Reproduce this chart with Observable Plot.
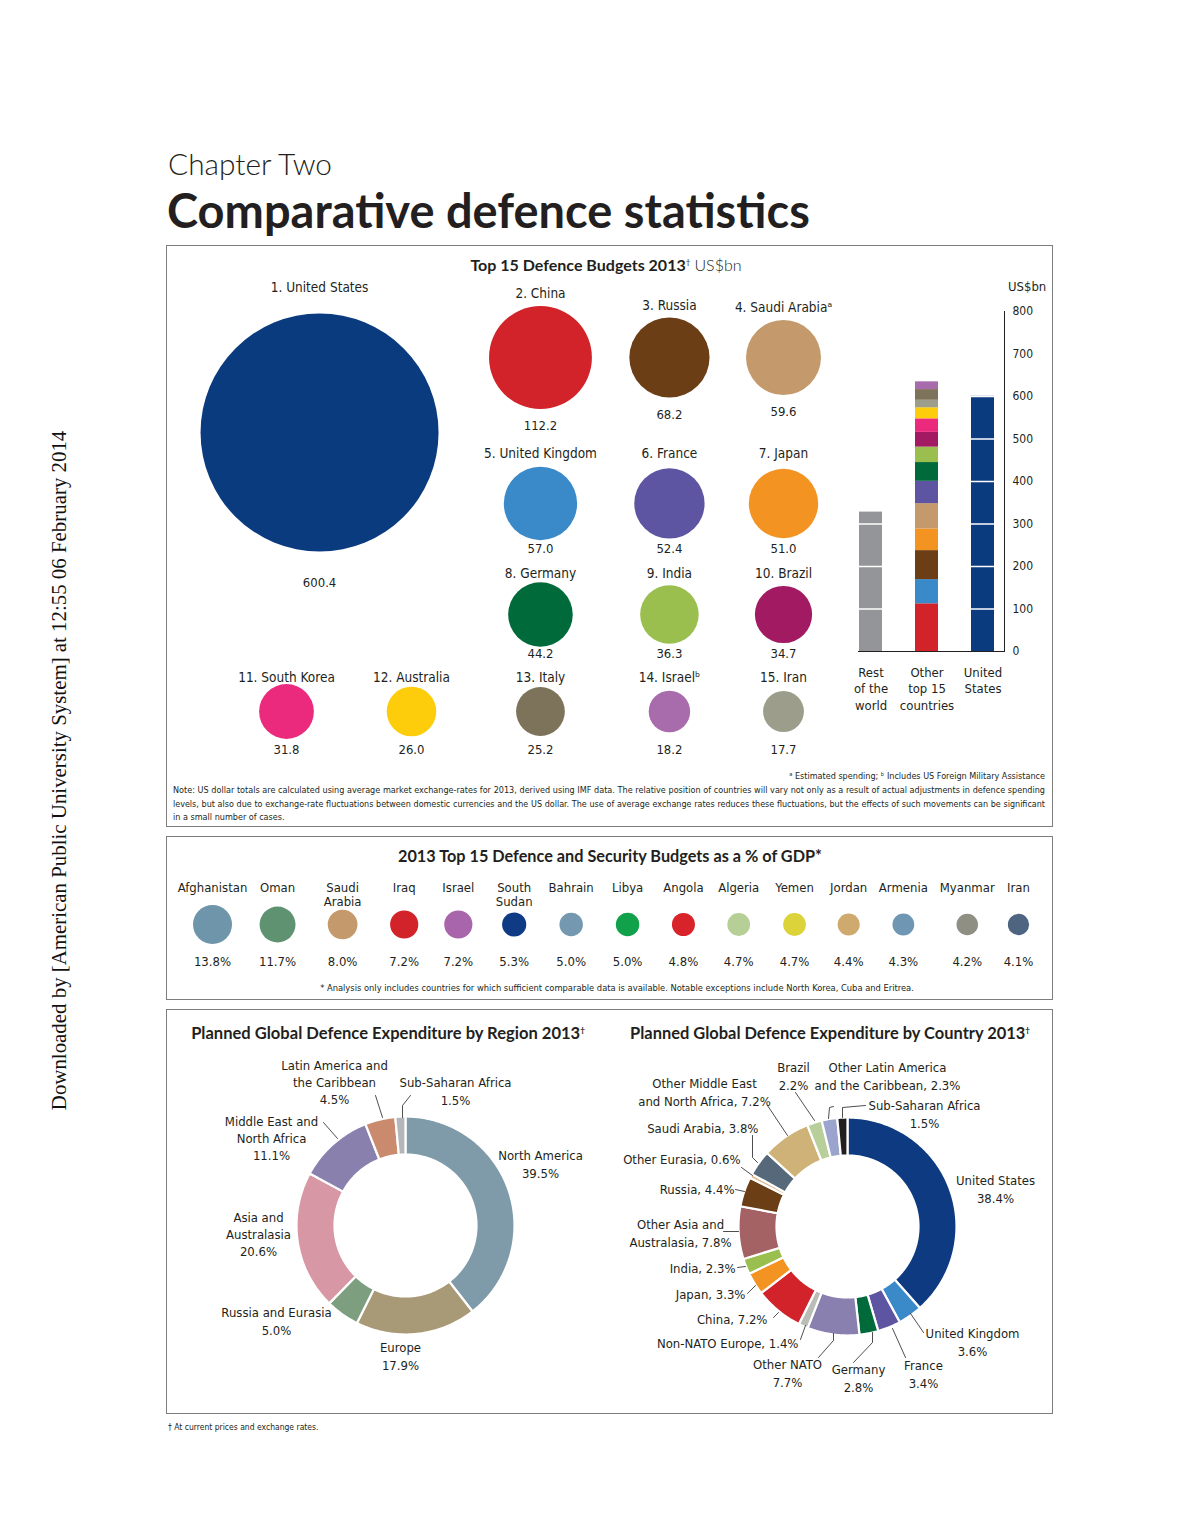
<!DOCTYPE html>
<html><head><meta charset="utf-8">
<script src="https://cdn.jsdelivr.net/npm/d3@7"></script>
<script src="https://cdn.jsdelivr.net/npm/@observablehq/plot@0.6"></script>
<style>
body{margin:0;background:#fff;}
#page{position:relative;width:1186px;height:1534px;overflow:hidden;background:#fff;color:#231f20;}
.box{position:absolute;border:1px solid #7d7d7d;box-sizing:border-box;}
.pl{position:absolute;}
</style></head><body><div id="page"></div>
<script>
// ---------------- DATA ----------------
const top15Names = ["United States","China","Russia","Saudi Arabia","United Kingdom","France","Japan","Germany","India","Brazil","South Korea","Australia","Italy","Israel","Iran"];
const top15Notes = ["","","","ᵃ","","","","","","","","","","ᵇ",""];
const top15Values = [600.4,112.2,68.2,59.6,57.0,52.4,51.0,44.2,36.3,34.7,31.8,26.0,25.2,18.2,17.7];

const barCategories = ["Rest of the world","Other top 15 countries","United States"];
const barTickLabels = ["Rest\nof the\nworld","Other\ntop 15\ncountries","United\nStates"];
const restOfWorld = 328;
const stackOrder = ["China","United Kingdom","Russia","Japan","Saudi Arabia","France","Germany","India","Brazil","South Korea","Australia","Iran","Italy","Israel"];
const barTicks = [0,100,200,300,400,500,600,700,800];

const gdpCountries = ["Afghanistan","Oman","Saudi\nArabia","Iraq","Israel","South\nSudan","Bahrain","Libya","Angola","Algeria","Yemen","Jordan","Armenia","Myanmar","Iran"];
const gdpShares = [13.8,11.7,8.0,7.2,7.2,5.3,5.0,5.0,4.8,4.7,4.7,4.4,4.3,4.2,4.1];

const regions = ["North America","Europe","Russia and Eurasia","Asia and Australasia","Middle East and North Africa","Latin America and the Caribbean","Sub-Saharan Africa"];
const regionShares = [39.5,17.9,5.0,20.6,11.1,4.5,1.5];
const regionLabelText = ["North America\n{v}","Europe\n{v}","Russia and Eurasia\n{v}","Asia and\nAustralasia\n{v}","Middle East and\nNorth Africa\n{v}","Latin America and\nthe Caribbean\n{v}","Sub-Saharan Africa\n{v}"];

const countries = ["United States","United Kingdom","France","Germany","Other NATO","Non-NATO Europe","China","Japan","India","Other Asia and Australasia","Russia","Other Eurasia","Saudi Arabia","Other Middle East and North Africa","Brazil","Other Latin America and the Caribbean","Sub-Saharan Africa"];
const countryShares = [38.4,3.6,3.4,2.8,7.7,1.4,7.2,3.3,2.3,7.8,4.4,0.6,3.8,7.2,2.2,2.3,1.5];
const countryLabelText = ["United States\n{v}","United Kingdom\n{v}","France\n{v}","Germany\n{v}","Other NATO\n{v}","Non-NATO Europe, {v}","China, {v}","Japan, {v}","India, {v}","Other Asia and\nAustralasia, {v}","Russia, {v}","Other Eurasia, {v}","Saudi Arabia, {v}","Other Middle East\nand North Africa, {v}","Brazil\n{v}","Other Latin America\nand the Caribbean, {v}","Sub-Saharan Africa\n{v}"];

// ---------------- STYLES / LAYOUT ----------------
const top15Palette = ["#0b3b7f","#d2232a","#6b3e16","#c49a6c","#3a89c9","#5e55a2","#f39322","#006a3a","#9bbf4f","#a21a61","#ec2a7d","#fdcc0a","#7d735a","#a86bac","#9d9d8c"];
const restColor = "#939598";
const gdpPalette = ["#6f95ab","#5f9270","#c49a6c","#d2232a","#a865ac","#0f3a84","#7398af","#12a14b","#d8232a","#b6cf97","#dcd23a","#cfaa6e","#6f97b4","#8f8f84","#4d6580"];
const regionPalette = ["#7f9aa8","#a99a77","#7d9f80","#d797a5","#8a80ad","#c98a6d","#b4b7b9"];
const countryPalette = ["#0d3a80","#3a89c9","#5e55a2","#006a3a","#8a80b0","#b9bcb7","#d2232a","#f39322","#9bbf4f","#a56264","#6b3e16","#e0b98d","#56697a","#ceb277","#b8cf9b","#9ba4cc","#231f20"];
// grid slots (layout units) for the bubble panel and the GDP row
const bubbleColSlots = [0, 1.006, 2.044, 3.082, 4];
const bubbleRowSlots = [0, 1.237, 2.178, 3];
const usSlot = [0.266, 0.636];
const gdpSlots = [0, 1.13, 2.26, 3.33, 4.27, 5.24, 6.23, 7.21, 8.18, 9.14, 10.11, 11.05, 12.0, 13.11, 14];

const COND = '"Liberation Sans Narrow","DejaVu Sans Condensed","Arial Narrow",Roboto,sans-serif';
const TITLE = 'Lato,"Open Sans","Noto Sans",sans-serif';
const INK = "#231f20";
const page = document.getElementById("page");

function txt(content, x, y, o = {}) {
  const d = document.createElement("div");
  d.innerHTML = content;
  const size = o.size || 13;
  Object.assign(d.style, {position:"absolute", left:x+"px", top:y+"px", whiteSpace:"nowrap",
    fontFamily:o.family||COND, fontSize:size+"px", fontWeight:o.weight||400, color:o.color||INK,
    lineHeight:"1.2"});
  page.appendChild(d);
  if (o.fit) { const w = d.getBoundingClientRect().width; d.style.fontSize = (size*o.fit/w)+"px"; }
  const tx = o.anchor==="middle" ? "-50%" : o.anchor==="end" ? "-100%" : "0";
  d.style.transform = `translate(${tx},-50%)`;
  return d;
}
function box(l,t,w,h){const b=document.createElement("div");b.className="box";Object.assign(b.style,{left:l+"px",top:t+"px",width:w+"px",height:h+"px"});page.appendChild(b);}
function mount(svg,l,t){const d=document.createElement("div");d.className="pl";d.style.left=l+"px";d.style.top=t+"px";d.appendChild(svg);page.appendChild(d);}
const baseStyle = {fontFamily:COND, fontSize:"13px", color:INK, background:"transparent", overflow:"visible"};

// ---------------- FRAMES ----------------
box(166,245,887,582);
box(166,836,887,164);
box(166,1009,887,405);

// ---------------- PANEL 1: BUBBLES ----------------
const rScale = Plot.scale({r:{type:"sqrt", domain:[0,600.4], range:[0,119]}});
const bub = top15Names.map((n,i) => {
  let col, row, grp;
  if (i === 0) { col = usSlot[0]; row = usSlot[1]; grp = "us"; }
  else if (i <= 9) { const r = Math.floor((i-1)/3); col = bubbleColSlots[2 + (i-1)%3]; row = bubbleRowSlots[r]; grp = "r"+r; }
  else { col = bubbleColSlots[i-10]; row = bubbleRowSlots[3]; grp = "r3"; }
  return {name:n, label:`${i+1}. ${n}${top15Notes[i]}`, value:top15Values[i], color:top15Palette[i], col, row, grp};
});
function labelDy(d){const rp=rScale.apply(d.value);return {us:-145, r0:-(rp+12), r1:-50, r2:-41, r3:-34}[d.grp];}
function valueDy(d){const rp=rScale.apply(d.value);return {us:150, r0:rp+17, r1:45, r2:39, r3:38}[d.grp];}
const bubMarks = [Plot.dot(bub, {x:"col", y:"row", r:"value", fill:"color"})];
bub.forEach(d => {
  bubMarks.push(Plot.text([d], {x:"col", y:"row", text:"label", dy:labelDy(d), fontSize:13.5}));
  bubMarks.push(Plot.text([d], {x:"col", y:"row", text:e=>e.value.toFixed(1), dy:valueDy(d), fontSize:13}));
});
mount(Plot.plot({
  width:680, height:530, margin:0,
  x:{domain:[0,4], range:[120,617], axis:null},
  y:{domain:[0,3], range:[112,466], axis:null},
  r:{type:"sqrt", domain:[0,600.4], range:[0,119]},
  color:{type:"identity"},
  style:baseStyle,
  marks:bubMarks
}), 166, 245);

// ---------------- PANEL 1: STACKED BARS ----------------
const barRows = [{cat:barCategories[0], part:"Rest of the world", value:restOfWorld, color:restColor}];
stackOrder.forEach(n => { const k = top15Names.indexOf(n); barRows.push({cat:barCategories[1], part:n, value:top15Values[k], color:top15Palette[k]}); });
barRows.push({cat:barCategories[2], part:"United States", value:top15Values[0], color:top15Palette[0]});
const whiteGrid = [];
[[0, restOfWorld],[2, top15Values[0]]].forEach(([ci,v]) => { for (let t=100; t<v; t+=100) whiteGrid.push({cat:barCategories[ci], y:t}); });
mount(Plot.plot({
  width:230, height:460, marginLeft:18, marginRight:65, marginTop:41, marginBottom:79,
  x:{type:"band", domain:barCategories, range:[18,155], paddingInner:0.596, paddingOuter:0},
  y:{domain:[0,800]},
  color:{type:"identity"},
  style:baseStyle,
  marks:[
    Plot.barY(barRows, {x:"cat", y:"value", fill:"color"}),
    Plot.tickY(whiteGrid, {x:"cat", y:"y", stroke:"white", strokeWidth:1.5}),
    Plot.ruleY([0], {stroke:INK, strokeWidth:1}),
    Plot.ruleX([barCategories[2]], {y1:0, y2:800, dx:21.5, stroke:INK, strokeWidth:1}),
    Plot.axisY({anchor:"right", ticks:barTicks, tickSize:0, tickPadding:7, label:null, fontSize:12, textAnchor:"start"}),
    Plot.axisX({tickSize:0, tickPadding:13, label:null, fontSize:13, lineHeight:1.3, tickFormat:d => barTickLabels[barCategories.indexOf(d)]})
  ]
}), 840, 270);
txt("US$bn", 1008, 287, {size:13});

// ---------------- PANEL 2: GDP ----------------
const gdp = gdpCountries.map((n,i) => ({name:n, slot:gdpSlots[i], share:gdpShares[i], color:gdpPalette[i]}));
mount(Plot.plot({
  width:886, height:163, marginTop:40, marginBottom:27, marginLeft:0, marginRight:0,
  x:{domain:[0,14], range:[46,852], axis:null},
  r:{type:"sqrt", domain:[0,13.8], range:[0,19.5]},
  color:{type:"identity"},
  style:baseStyle,
  marks:[
    Plot.dot(gdp, {x:"slot", r:"share", fill:"color"}),
    Plot.text(gdp, {x:"slot", text:"name", frameAnchor:"top", lineAnchor:"top", dy:5, fontSize:13, lineHeight:1.1}),
    Plot.text(gdp, {x:"slot", text:d => d.share.toFixed(1)+"%", frameAnchor:"bottom", dy:-7, fontSize:13})
  ]
}), 166, 836);

// ---------------- PANEL 3: DONUTS ----------------
const RO = 109, RI = 71;
function ringPolys(names, shares, palette) {
  const total = d3.sum(shares); let acc = 0; const pts = [];
  names.forEach((n,i) => {
    const a0 = acc/total*2*Math.PI, a1 = (acc+shares[i])/total*2*Math.PI; acc += shares[i];
    const steps = Math.max(2, Math.ceil((a1-a0)/0.015));
    const poly = [];
    for (let k=0;k<=steps;k++){const a=a0+(a1-a0)*k/steps; poly.push([RO*Math.sin(a), RO*Math.cos(a)]);}
    for (let k=steps;k>=0;k--){const a=a0+(a1-a0)*k/steps; poly.push([RI*Math.sin(a), RI*Math.cos(a)]);}
    poly.push(poly[0]);
    poly.forEach(([x,y]) => pts.push({name:n, x, y, color:palette[i]}));
  });
  return pts;
}
function donut(names, shares, palette, labelText, placement, leaders) {
  const labels = names.map((n,i) => ({text:labelText[i].replace("{v}", shares[i].toFixed(1)+"%"), x:placement[i][0], y:placement[i][1], anchor:placement[i][2]}));
  const lead = [];
  leaders.forEach((L,j) => L.forEach(([x,y]) => lead.push({id:j, x, y})));
  return Plot.plot({
    width:460, height:380, margin:0,
    x:{domain:[-230,230], axis:null}, y:{domain:[-190,190], axis:null},
    color:{type:"identity"},
    style:baseStyle,
    marks:[
      Plot.line(ringPolys(names, shares, palette), {x:"x", y:"y", z:"name", fill:"color", stroke:"white", strokeWidth:2.2, curve:"linear"}),
      Plot.line(lead, {x:"x", y:"y", z:"id", stroke:INK, strokeWidth:0.8}),
      ...["start","middle","end"].map(a => Plot.text(labels.filter(l => l.anchor===a), {x:"x", y:"y", text:"text", textAnchor:a, fontSize:13, lineHeight:1.33}))
    ]
  });
}
// label placement relative to donut centre (layout)
const regionPlacement = [[135,62,"middle"],[-5,-130,"middle"],[-129,-95,"middle"],[-147,-8,"middle"],[-134,88,"middle"],[-71,144,"middle"],[50,135,"middle"]];
const regionLeaders = [[[-82,103],[-68,87]],[[-30,130],[-23,108]],[[5,130],[-3,120],[-3,108]]];
mount(donut(regions, regionShares, regionPalette, regionLabelText, regionPlacement, regionLeaders), 175, 1035);

const countryPlacement = [[148,38,"middle"],[125,-115,"middle"],[76,-147,"middle"],[11,-151,"middle"],[-60,-146,"middle"],[-49,-116,"end"],[-80,-92,"end"],[-102,-67,"end"],[-112,-41,"end"],[-167,-6,"middle"],[-113,38,"end"],[-107,68,"end"],[-89,99,"end"],[-143,135,"middle"],[-54,151,"middle"],[40,151,"middle"],[77,113,"middle"]];
const countryLeaders = [
  [[76,-106],[63,-87]], [[58,-131],[45,-102]], [[6,-136],[25,-116],[25,-106]], [[-29,-131],[-14,-114],[-14,-107]],
  [[-47,-113],[-42,-99]], [[-74,-91],[-69,-86]], [[-100,-67],[-92,-59]], [[-110,-41],[-102,-40]],
  [[-124,-5],[-109,-5]], [[-112,37],[-103,35]], [[-106,59],[-95,51]], [[-95,91],[-95,69],[-90,64]],
  [[-80,121],[-60,91]], [[-52,134],[-33,106]], [[-19,108],[-18,119],[-14,120]], [[-5,109],[-5,119],[18,121]]
];
mount(donut(countries, countryShares, countryPalette, countryLabelText, countryPlacement, countryLeaders), 617, 1036);

// ---------------- TEXTS ----------------
txt("Chapter Two", 168, 164, {family:TITLE, weight:300, size:28, fit:164});
txt("Comparative defence statistics", 167, 210, {family:TITLE, weight:700, size:44, fit:643});
txt('<b>Top 15 Defence Budgets 2013</b><sup style="font-size:8px">†</sup> <span style="font-weight:300">US$bn</span>', 606, 265, {family:TITLE, size:14, anchor:"middle", fit:272});
txt("ᵃ Estimated spending; ᵇ Includes US Foreign Military Assistance", 1045, 776, {size:9, anchor:"end"});
const noteLines = [
  "Note: US dollar totals are calculated using average market exchange-rates for 2013, derived using IMF data. The relative position of countries will vary not only as a result of actual adjustments in defence spending",
  "levels, but also due to exchange-rate fluctuations between domestic currencies and the US dollar. The use of average exchange rates reduces these fluctuations, but the effects of such movements can be significant",
  "in a small number of cases."];
const NOTE_W = 872;
let noteSize = 9;
noteLines.forEach((l,i) => {
  const s = document.createElement("div");
  s.textContent = l;
  Object.assign(s.style, {position:"absolute", left:"173px", top:(790 + i*13.5)+"px", whiteSpace:"nowrap", fontFamily:COND, fontSize:noteSize+"px", color:INK, lineHeight:"1", transform:"translateY(-50%)"});
  page.appendChild(s);
  let w = s.getBoundingClientRect().width;
  if (i < 2) {
    if (w > NOTE_W) { const fs = noteSize*NOTE_W/w*0.995; s.style.fontSize = fs+"px"; w = s.getBoundingClientRect().width; }
    const spaces = (l.match(/ /g)||[]).length;
    s.style.wordSpacing = ((NOTE_W - w)/spaces)+"px";
  }
});

txt('2013 Top 15 Defence and Security Budgets as a % of GDP*', 610, 856, {family:TITLE, weight:700, size:14, anchor:"middle", fit:424});
txt("* Analysis only includes countries for which sufficient comparable data is available. Notable exceptions include North Korea, Cuba and Eritrea.", 617, 988, {size:8.5, anchor:"middle", fit:595});
txt('Planned Global Defence Expenditure by Region 2013<sup style="font-size:8px">†</sup>', 388, 1034, {family:TITLE, weight:700, size:14, anchor:"middle", fit:395});
txt('Planned Global Defence Expenditure by Country 2013<sup style="font-size:8px">†</sup>', 830, 1034, {family:TITLE, weight:700, size:14, anchor:"middle", fit:401});
txt("† At current prices and exchange rates.", 168, 1427, {size:8.5});

// rotated side text
const side = document.createElement("div");
side.textContent = "Downloaded by [American Public University System] at 12:55 06 February 2014";
Object.assign(side.style, {position:"absolute", whiteSpace:"nowrap", fontFamily:'"Liberation Serif","DejaVu Serif",serif', fontSize:"19px", color:"#111", lineHeight:"1"});
page.appendChild(side);
const sw = side.getBoundingClientRect().width;
side.style.fontSize = (19*680/sw)+"px";
const sw2 = side.getBoundingClientRect().width, sh2 = side.getBoundingClientRect().height;
side.style.left = (60 - sw2/2)+"px"; side.style.top = (770 - sh2/2)+"px";
side.style.transform = "rotate(-90deg)";
</script></body></html>
